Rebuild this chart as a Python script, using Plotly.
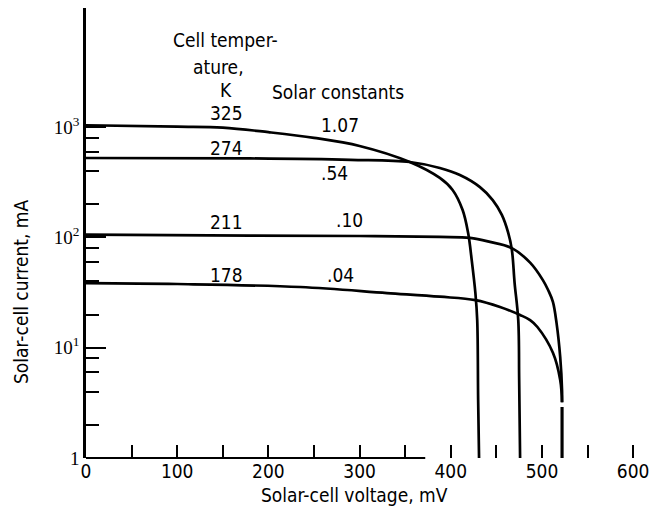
import plotly.graph_objects as go

# Solar-cell I-V characteristics (voltage in mV, current in mA)
volt_325 = [0, 100, 150, 200, 250, 300, 355, 388, 402, 413, 419, 423, 427, 429, 430, 431]
curr_325 = [1040, 1010, 990, 900, 800, 675, 483, 346, 269, 177, 110, 62, 31.3, 17.8, 3.4, 1]

volt_274 = [0, 180, 290, 355, 388, 410, 432, 446, 456, 463, 467, 470, 474, 475, 476]
curr_274 = [525, 520, 505, 483, 426, 368, 286, 218, 160, 110, 77, 38.6, 17.8, 5.1, 1]

volt_211 = [0, 180, 300, 388, 421, 443, 467, 487, 501, 507, 512, 516, 520, 522, 522, None, 522, 522]
curr_211 = [106, 104, 103, 101, 99, 91, 80, 59, 41, 33, 26, 16.7, 8.2, 4.1, 3.2, None, 2.9, 1]

volt_178 = [0, 100, 235, 330, 388, 427, 454, 476, 487, 495, 512, 520, 522, None, 522, 522]
curr_178 = [38.5, 37.8, 35.5, 31.3, 29, 27, 23.4, 19.8, 17.8, 15.4, 9.0, 5.1, 3.2, None, 2.9, 1]

cell_temps = ["325", "274", "211", "178"]
solar_consts = ["1.07", ".54", ".10", ".04"]

x_ticks = list(range(0, 601, 50))
x_ticktext = [str(v) if v % 100 == 0 else " " for v in x_ticks]
y_ticks = [1, 10, 100, 1000]
y_ticktext = ["1", "10<sup>1</sup>", "10<sup>2</sup>", "10<sup>3</sup>"]
y_minor = [m * 10 ** e for e in range(3) for m in (2, 4, 6, 8)]

SANS = "Liberation Sans Narrow, DejaVu Sans Condensed, Arial Narrow, Roboto, sans-serif"
SERIF = "Liberation Serif, DejaVu Serif, serif"

# plot area geometry in pixels
L, R, T, B = 86, 11, 8, 53
PW, PH = 649 - L - R, 511 - T - B

fig = go.Figure()
for xs, ys in [(volt_325, curr_325), (volt_274, curr_274),
               (volt_211, curr_211), (volt_178, curr_178)]:
    fig.add_trace(go.Scatter(
        x=xs, y=ys, mode="lines",
        line=dict(color="black", width=2.7, shape="spline", smoothing=1.0),
        connectgaps=False, showlegend=False, hoverinfo="skip"))

fig.update_layout(
    width=649, height=511,
    margin=dict(l=L, r=R, t=T, b=B, autoexpand=False),
    paper_bgcolor="white", plot_bgcolor="white",
    font=dict(family=SANS, size=19, color="black"),
    xaxis=dict(
        range=[0, 605.3], showgrid=False, zeroline=False, showline=False,
        automargin=False,
        tickmode="array", tickvals=x_ticks, ticktext=x_ticktext,
        ticks="inside", ticklen=13, tickwidth=2, tickcolor="black",
        ticklabeloverflow="allow",
        tickfont=dict(family=SANS, size=19)),
    yaxis=dict(
        type="log", range=[0, 4.08], showgrid=False, zeroline=False,
        automargin=False,
        showline=True, linewidth=2.6, linecolor="black",
        tickmode="array", tickvals=y_ticks, ticktext=y_ticktext,
        ticks="inside", ticklen=20, tickwidth=2, tickcolor="black",
        tickfont=dict(family=SERIF, size=19),
        minor=dict(tickmode="array", tickvals=y_minor, ticks="inside",
                   ticklen=13, tickwidth=2, tickcolor="black", showgrid=False)),
)

# partial baseline along the voltage axis
fig.add_shape(type="line", xref="x", yref="paper", x0=0, x1=372, y0=0, y1=0,
              line=dict(color="black", width=2))


def label(text, px, py, angle=0):
    fig.add_annotation(x=(px - L) / PW, y=(511 - B - py) / PH, xref="paper", yref="paper",
                       text=text, showarrow=False, textangle=angle,
                       font=dict(family=SANS, size=19, color="black"),
                       xanchor="center", yanchor="middle")


label("Cell temper-", 225, 40)
label("ature,", 218, 67)
label("K", 226, 90)
label("Solar constants", 338, 92)
for t, py in zip(cell_temps, [113, 148, 222, 275]):
    label(t, 226, py)
for t, (px, py) in zip(solar_consts, [(340, 125), (334, 173), (349, 220), (340, 275)]):
    label(t, px, py)

label("Solar-cell voltage, mV", 354, 495)
label("Solar-cell current, mA", 21, 292, angle=-90)

fig.write_html("out.html")
